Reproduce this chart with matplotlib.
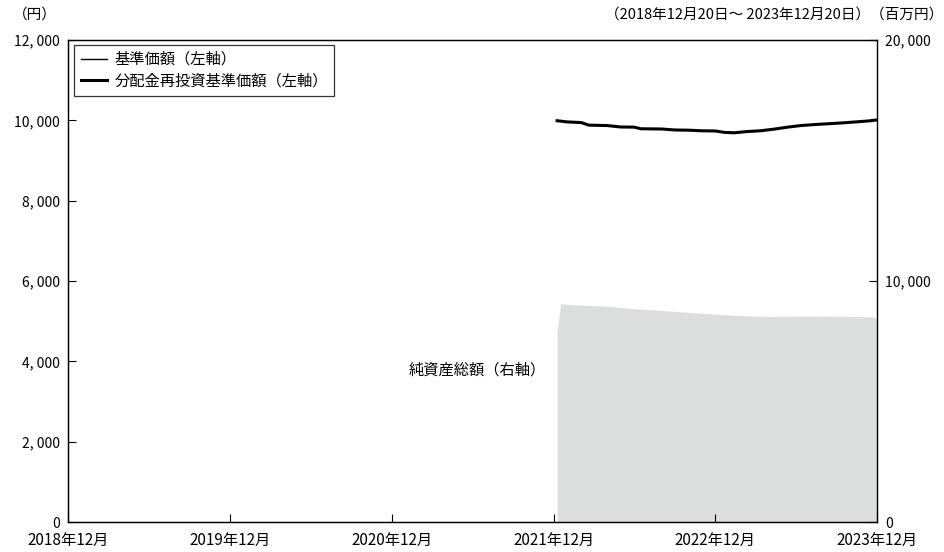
import matplotlib.dates as mdates
import numpy as np
import pandas as pd
from matplotlib import pyplot as plt

plt.rcParams["font.family"] = ["Noto Sans CJK JP", "DejaVu Sans"]

# 基準価額 (円), 分配金なしのため分配金再投資基準価額と同じ
nav_dates = pd.to_datetime([
    "2021-12-28", "2022-01-20", "2022-02-20", "2022-03-10", "2022-04-20",
    "2022-05-20", "2022-06-20", "2022-07-05", "2022-08-20", "2022-09-20",
    "2022-10-20", "2022-11-20", "2022-12-20", "2023-01-10", "2023-02-01",
    "2023-03-01", "2023-04-01", "2023-05-01", "2023-06-01", "2023-07-01",
    "2023-08-01", "2023-09-01", "2023-10-01", "2023-11-01", "2023-12-01",
    "2023-12-20",
])
nav = [9990, 9960, 9945, 9880, 9870, 9835, 9830, 9790, 9785, 9760,
       9755, 9740, 9735, 9700, 9690, 9720, 9740, 9780, 9830, 9870,
       9895, 9915, 9935, 9960, 9985, 10010]
nav_reinvest = nav

# 純資産総額 (百万円)
aum_dates = pd.to_datetime([
    "2021-12-28", "2022-01-05", "2022-02-20", "2022-04-20", "2022-06-20",
    "2022-08-20", "2022-10-20", "2022-12-20", "2023-02-20", "2023-04-20",
    "2023-06-20", "2023-08-20", "2023-10-20", "2023-12-10", "2023-12-20",
])
aum = [7900, 9050, 9000, 8950, 8850, 8780, 8700, 8620, 8560, 8530,
       8540, 8545, 8530, 8510, 8430]

xtick_dates = pd.to_datetime([f"{y}-12-20" for y in range(2018, 2024)])
xtick_labels = [f"{y}年12月" for y in range(2018, 2024)]
left_ticks = [0, 2000, 4000, 6000, 8000, 10000, 12000]
right_ticks = [0, 10000, 20000]

fig = plt.figure(figsize=(9.45, 5.52), dpi=100)
ax = fig.add_axes([68 / 945, 30 / 552, 809 / 945, 482 / 552])
ax2 = ax.twinx()
ax.set_zorder(ax2.get_zorder() + 1)
ax.patch.set_visible(False)

ax2.fill_between(aum_dates, 0, aum, color="#dcdddd", linewidth=0)
ax2.set_ylim(0, 20000)
ax2.set_yticks(right_ticks)
ax2.set_yticklabels([f"{v:,}".replace(",", ", ") for v in right_ticks])

ax.plot(nav_dates, nav, color="black", linewidth=1, label="基準価額（左軸）")
ax.plot(nav_dates, nav_reinvest, color="black", linewidth=2.2,
        label="分配金再投資基準価額（左軸）")
ax.set_ylim(0, 12000)
ax.set_yticks(left_ticks)
ax.set_yticklabels([f"{v:,}".replace(",", ", ") for v in left_ticks])
ax.set_xlim(xtick_dates[0], xtick_dates[-1])
ax.set_xticks(xtick_dates)
ax.set_xticklabels(xtick_labels)

for a in (ax, ax2):
    a.tick_params(direction="in", length=6, width=0.8, labelsize=10,
                  colors="black", pad=6)
    for s in a.spines.values():
        s.set_linewidth(0.9)
ax.tick_params(axis="x", pad=7, labelsize=11)
ax2.spines["right"].set_color("#444444")

leg = ax.legend(loc="upper left", bbox_to_anchor=(0.008, 0.99), fontsize=11,
                frameon=True, fancybox=False, edgecolor="black",
                handlelength=1.7, handletextpad=0.5, borderpad=0.4,
                labelspacing=0.3, borderaxespad=0)
leg.get_frame().set_linewidth(0.9)

ax.text(0.506, 0.315, "純資産総額（右軸）", transform=ax.transAxes,
        ha="center", va="center", fontsize=11)
fig.text(13 / 945, 1 - 15 / 552, "（円）", ha="left", va="center", fontsize=10.5)
fig.text(943 / 945, 1 - 15 / 552, "（2018年12月20日～ 2023年12月20日）（百万円）",
         ha="right", va="center", fontsize=10.5)

fig.savefig("out.png", dpi=100)
